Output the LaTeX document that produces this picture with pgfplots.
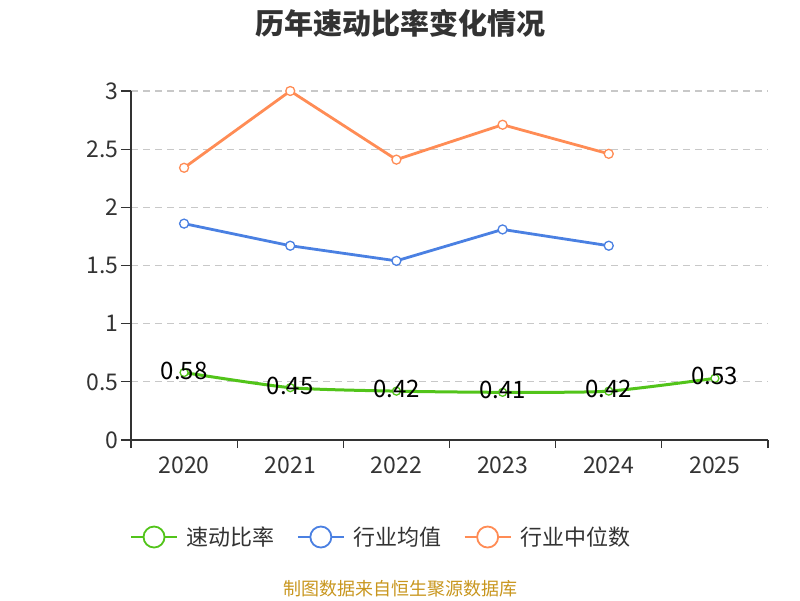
\documentclass[border=0pt]{standalone}
\usepackage{pgfplots}
\pgfplotsset{compat=1.18}
\usepackage{fontspec}
\setmainfont{Noto Sans CJK SC}
\definecolor{cgreen}{RGB}{82,196,26}
\definecolor{cblue}{RGB}{74,128,226}
\definecolor{corange}{RGB}{255,140,85}
\definecolor{ctext}{RGB}{51,51,51}
\definecolor{cgrid}{RGB}{200,200,200}
\definecolor{cfoot}{RGB}{200,150,30}
\begin{document}
\begin{tikzpicture}[x=1pt,y=1pt]
\path[use as bounding box] (0,0) rectangle (800,600);
\node[font=\bfseries\fontsize{29}{34}\selectfont, text=ctext] at (400,577) {历年速动比率变化情况};
\node[font=\fontsize{18}{21}\selectfont, text=cfoot] at (400,11) {制图数据来自恒生聚源数据库};
\begin{axis}[at={(131pt,160pt)}, anchor=south west, scale only axis,
  width=637pt, height=349pt,
  xmin=-0.5, xmax=5.5, ymin=0, ymax=3,
  axis x line*=bottom, axis y line*=left,
  axis line style={draw=ctext, line width=1.3pt},
  ytick={0,0.5,1,1.5,2,2.5,3},
  ymajorgrids, grid style={draw=cgrid, line width=1.2pt, dash pattern=on 7pt off 5pt},
  xtick={0,1,2,3,4,5},
  xticklabels={2020,2021,2022,2023,2024,2025},
  minor xtick={-0.5,0.5,1.5,2.5,3.5,4.5,5.5},
  major x tick style={draw=none},
  tick align=outside, major tick length=10pt, minor tick length=8pt,
  tick style={draw=ctext, line width=1.3pt},
  /pgf/number format/assume math mode=true,
  ticklabel style={font=\fontsize{23}{26}\selectfont, text=ctext},
  xticklabel style={yshift=-3pt},
  yticklabel style={xshift=1pt},
  legend columns=3,
  legend style={draw=none, at={(0.393,-0.278)}, anchor=center,
    font=\fontsize{22}{26}\selectfont, text=ctext,
    /tikz/every odd column/.append style={column sep=7pt},
    /tikz/every even column/.append style={column sep=20pt}},
  legend cell align=left,
  clip=false,
]
\addplot[cgreen, line width=3pt, smooth, tension=0.4,
  mark=*, mark options={fill=white, draw=cgreen, line width=1.3pt}, mark size=4pt,
  point meta=explicit symbolic, nodes near coords,
  every node near coord/.append style={anchor=center, text=black, yshift=2pt, font=\fontsize{24}{28}\selectfont},
  legend image code/.code={\draw[cgreen, line width=1.8pt] (0pt,0pt) -- (46pt,0pt);
    \draw[cgreen, line width=1.8pt, fill=white] (23pt,0pt) circle (10.5pt);}]
  table[meta=l] {
x y l
0 0.58 0.58
1 0.45 0.45
2 0.42 0.42
3 0.41 0.41
4 0.42 0.42
5 0.53 0.53
};
\addlegendentry{速动比率}
\addplot[cblue, line width=2.8pt,
  mark=*, mark options={fill=white, draw=cblue, line width=1.3pt}, mark size=4.5pt,
  legend image code/.code={\draw[cblue, line width=1.8pt] (0pt,0pt) -- (46pt,0pt);
    \draw[cblue, line width=1.8pt, fill=white] (23pt,0pt) circle (10.5pt);}]
  table {
x y
0 1.86
1 1.67
2 1.54
3 1.81
4 1.67
};
\addlegendentry{行业均值}
\addplot[corange, line width=2.8pt,
  mark=*, mark options={fill=white, draw=corange, line width=1.3pt}, mark size=4.5pt,
  legend image code/.code={\draw[corange, line width=1.8pt] (0pt,0pt) -- (46pt,0pt);
    \draw[corange, line width=1.8pt, fill=white] (23pt,0pt) circle (10.5pt);}]
  table {
x y
0 2.34
1 3.00
2 2.41
3 2.71
4 2.46
};
\addlegendentry{行业中位数}
\end{axis}
\end{tikzpicture}
\end{document}
